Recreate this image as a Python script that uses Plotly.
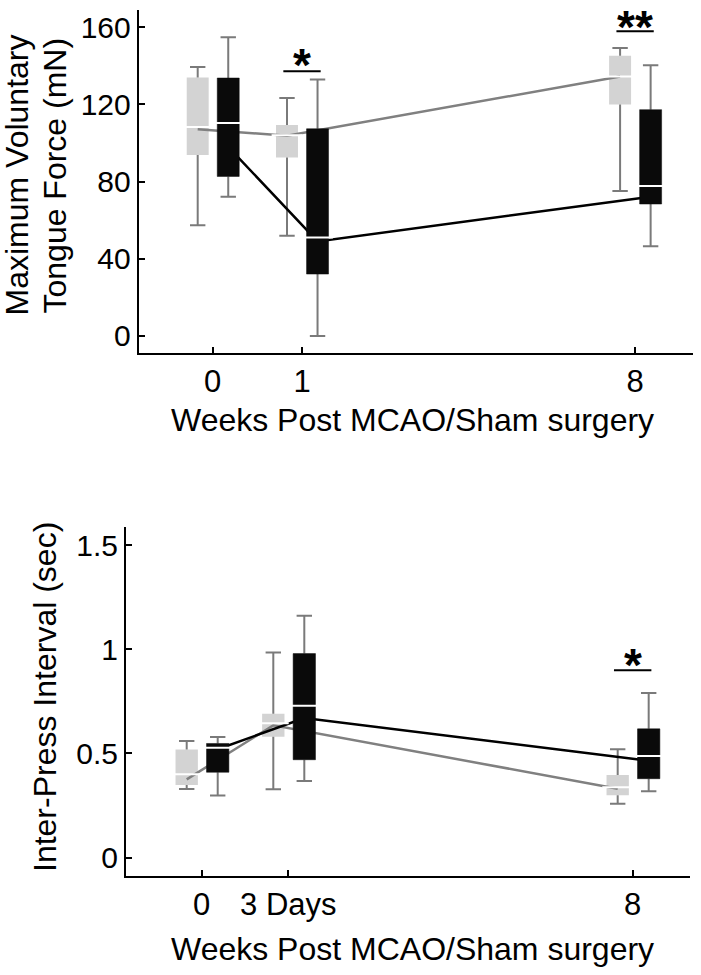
import plotly.graph_objects as go

# ---------------- data ----------------
# Top panel: Maximum voluntary tongue force (mN)
top_ticktext = ["0", "1", "8"]
top_tickpos = [0, 1, 4.73]          # category positions on the axis
sham_force_upper = [139.4, 123.3, 149.2]
sham_force_q3 = [134.0, 109.4, 145.2]
sham_force_median = [108.3, 104.0, 134.5]
sham_force_q1 = [93.8, 92.5, 120.0]
sham_force_lower = [57.4, 52.0, 75.1]
sham_force_mean = [107.1, 103.8, 134.5]

mcao_force_upper = [154.8, 133.0, 140.3]
mcao_force_q3 = [133.7, 107.4, 117.3]
mcao_force_median = [110.4, 51.0, 77.7]
mcao_force_q1 = [82.7, 32.1, 68.4]
mcao_force_lower = [72.2, 0.0, 46.5]
mcao_force_mean = [98.0, 49.0, 72.2]

top_sig_index = [1, 2]
top_sig_label = ["*", "**"]
top_sig_bar = [137.2, 158.0]
top_sig_star_top = [147.3, 166.9]   # level of the top of the star glyphs

# Bottom panel: Inter-press interval (sec)
bot_ticktext = ["0", "3 Days", "8"]
bot_tickpos = [0, 1, 4.977]
sham_ipi_upper = [0.56, 0.984, 0.52]
sham_ipi_q3 = [0.519, 0.69, 0.397]
sham_ipi_median = [0.40, 0.645, 0.338]
sham_ipi_q1 = [0.349, 0.58, 0.30]
sham_ipi_lower = [0.33, 0.328, 0.259]
sham_ipi_mean = [0.376, 0.635, 0.331]

mcao_ipi_upper = [0.579, 1.161, 0.79]
mcao_ipi_q3 = [0.548, 0.979, 0.618]
mcao_ipi_median = [0.527, 0.729, 0.488]
mcao_ipi_q1 = [0.41, 0.47, 0.379]
mcao_ipi_lower = [0.299, 0.368, 0.319]
mcao_ipi_mean = [0.52, 0.67, 0.465]

bot_sig_index = [2]
bot_sig_label = ["*"]
bot_sig_bar = [0.899]
bot_sig_star_top = [0.988]

# ---------------- styles ----------------
W, H = 701, 975
FONT = "Liberation Sans, Arial, Helvetica, sans-serif"
SHAM_BOX = "#d3d3d3"
MCAO_BOX = "#0a0a0a"
SHAM_LINE = "#808080"
MCAO_LINE = "#000000"
WHISKER = "#7a7a7a"
STAR_SIZE = 46

fig = go.Figure()


def add_panel(xa, ya, pos, sham, mcao, goff, boff, hw, sig_idx, sig_lab, sig_bar, sig_star, sig_hw):
    xref = xa.replace("axis", "")
    yref = ya.replace("axis", "")
    gx = [p + goff for p in pos]
    bx = [p + boff for p in pos]
    s_up, s_q3, s_med, s_q1, s_lo, s_mean = sham
    m_up, m_q3, m_med, m_q1, m_lo, m_mean = mcao

    # sham boxes (light grey)
    fig.add_trace(go.Bar(x=gx, base=s_q1, y=[a - b for a, b in zip(s_q3, s_q1)],
                         width=2 * hw, marker=dict(color=SHAM_BOX, line=dict(width=0)),
                         xaxis=xref, yaxis=yref, showlegend=False, hoverinfo="skip"))

    # whiskers
    for xs, up, q3, q1, lo in ((gx, s_up, s_q3, s_q1, s_lo), (bx, m_up, m_q3, m_q1, m_lo)):
        wx, wy = [], []
        for x, a, b, c, d in zip(xs, up, q3, q1, lo):
            wx += [x, x, None, x, x, None]
            wy += [a, b, None, c, d, None]
        fig.add_trace(go.Scatter(x=wx, y=wy, mode="lines", line=dict(color=WHISKER, width=2),
                                 xaxis=xref, yaxis=yref, showlegend=False, hoverinfo="skip"))
        fig.add_trace(go.Scatter(x=list(xs) + list(xs), y=list(up) + list(lo), mode="markers",
                                 marker=dict(symbol="line-ew", size=11,
                                             line=dict(color=WHISKER, width=2)),
                                 xaxis=xref, yaxis=yref, showlegend=False, hoverinfo="skip"))

    # mean lines
    fig.add_trace(go.Scatter(x=gx, y=s_mean, mode="lines", line=dict(color=SHAM_LINE, width=2.5),
                             xaxis=xref, yaxis=yref, showlegend=False, hoverinfo="skip"))
    fig.add_trace(go.Scatter(x=bx, y=m_mean, mode="lines", line=dict(color=MCAO_LINE, width=2.5),
                             xaxis=xref, yaxis=yref, showlegend=False, hoverinfo="skip"))

    # MCAO boxes (black), drawn over the lines
    px, py = [], []
    for x, a, b in zip(bx, m_q1, m_q3):
        px += [x - hw, x + hw, x + hw, x - hw, x - hw, None]
        py += [a, a, b, b, a, None]
    fig.add_trace(go.Scatter(x=px, y=py, mode="lines", fill="toself", fillcolor=MCAO_BOX,
                             line=dict(color=MCAO_BOX, width=0.5),
                             xaxis=xref, yaxis=yref, showlegend=False, hoverinfo="skip"))

    # medians (white)
    fig.add_trace(go.Scatter(x=gx + bx, y=list(s_med) + list(m_med), mode="markers",
                             marker=dict(symbol="line-ew", size=22,
                                         line=dict(color="white", width=2)),
                             xaxis=xref, yaxis=yref, showlegend=False, hoverinfo="skip"))

    # significance bars and stars
    for i, lab, yb, ys in zip(sig_idx, sig_lab, sig_bar, sig_star):
        c = pos[i]
        fig.add_trace(go.Scatter(x=[c - sig_hw, c + sig_hw], y=[yb, yb], mode="lines",
                                 line=dict(color="black", width=2),
                                 xaxis=xref, yaxis=yref, showlegend=False, hoverinfo="skip"))
        fig.add_annotation(x=c, y=ys, xref=xref, yref=yref, text="<b>%s</b>" % lab, showarrow=False,
                           xanchor="center", yanchor="top", yshift=round(0.302 * STAR_SIZE),
                           borderpad=0, font=dict(family=FONT, size=STAR_SIZE, color="black"))


add_panel("xaxis", "yaxis", top_tickpos,
          (sham_force_upper, sham_force_q3, sham_force_median, sham_force_q1, sham_force_lower, sham_force_mean),
          (mcao_force_upper, mcao_force_q3, mcao_force_median, mcao_force_q1, mcao_force_lower, mcao_force_mean),
          -0.168, 0.174, 0.123, top_sig_index, top_sig_label, top_sig_bar, top_sig_star_top, 0.209)

add_panel("xaxis2", "yaxis2", bot_tickpos,
          (sham_ipi_upper, sham_ipi_q3, sham_ipi_median, sham_ipi_q1, sham_ipi_lower, sham_ipi_mean),
          (mcao_ipi_upper, mcao_ipi_q3, mcao_ipi_median, mcao_ipi_q1, mcao_ipi_lower, mcao_ipi_mean),
          -0.173, 0.185, 0.129, bot_sig_index, bot_sig_label, bot_sig_bar, bot_sig_star_top, 0.216)

axis_common = dict(showline=True, linecolor="black", linewidth=2, ticks="inside", ticklen=6,
                   tickwidth=2, tickcolor="black", showgrid=False, zeroline=False,
                   automargin=False, fixedrange=True)

fig.update_layout(
    width=W, height=H, autosize=False,
    margin=dict(l=0, r=0, t=0, b=0),
    paper_bgcolor="white", plot_bgcolor="white",
    barmode="overlay", showlegend=False,
    font=dict(family=FONT, color="black"),
    xaxis=dict(domain=[138.7 / W, 693 / W], range=[-0.8287, 5.3785], anchor="y",
               tickmode="array", tickvals=top_tickpos, ticktext=top_ticktext,
               tickfont=dict(size=31), **axis_common),
    yaxis=dict(domain=[1 - 352.7 / H, 1 - 10 / H], range=[-8.66, 168.96], anchor="x",
               tickmode="array", tickvals=[0, 40, 80, 120, 160],
               tickfont=dict(size=30), **axis_common),
    xaxis2=dict(domain=[126 / W, 690 / W], range=[-0.874, 5.639], anchor="y2",
                tickmode="array", tickvals=bot_tickpos, ticktext=bot_ticktext,
                tickfont=dict(size=31), **axis_common),
    yaxis2=dict(domain=[1 - 875.7 / H, 1 - 526.7 / H], range=[-0.0863, 1.5878], anchor="x2",
                tickmode="array", tickvals=[0, 0.5, 1, 1.5], ticktext=["0", "0.5", "1", "1.5"],
                tickfont=dict(size=30), **axis_common),
)

title_font = dict(family=FONT, size=32, color="black")
# axis titles as annotations (paper coordinates)
fig.add_annotation(x=17 / W, y=1 - 175.5 / H, xref="paper", yref="paper", text="Maximum Voluntary",
                   textangle=-90, showarrow=False, xanchor="center", yanchor="middle", font=title_font)
fig.add_annotation(x=55 / W, y=1 - 175.5 / H, xref="paper", yref="paper", text="Tongue Force (mN)",
                   textangle=-90, showarrow=False, xanchor="center", yanchor="middle", font=title_font)
fig.add_annotation(x=412.5 / W, y=1 - 419.5 / H, xref="paper", yref="paper",
                   text="Weeks Post MCAO/Sham surgery", showarrow=False,
                   xanchor="center", yanchor="middle", font=title_font)
fig.add_annotation(x=45 / W, y=1 - 697 / H, xref="paper", yref="paper", text="Inter-Press Interval (sec)",
                   textangle=-90, showarrow=False, xanchor="center", yanchor="middle", font=title_font)
fig.add_annotation(x=412 / W, y=1 - 948.5 / H, xref="paper", yref="paper",
                   text="Weeks Post MCAO/Sham surgery", showarrow=False,
                   xanchor="center", yanchor="middle", font=title_font)

fig.write_html("out.html", config={"displayModeBar": False, "staticPlot": True},
               post_script="document.body.style.margin='0';")
